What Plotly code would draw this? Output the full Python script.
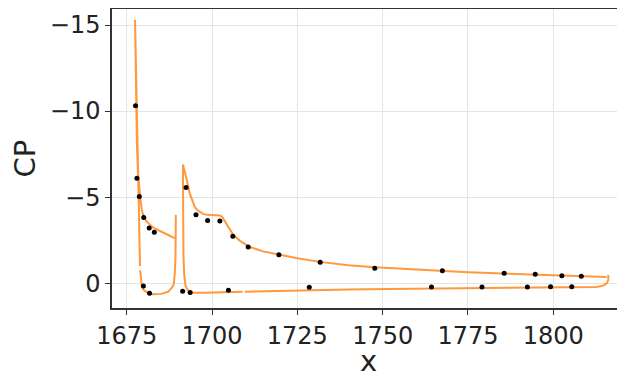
import plotly.graph_objects as go

# Slat pressure distribution (upper TE -> LE -> lower -> TE)
slat_x = [1689.3, 1688.5, 1687.2, 1685.5, 1684.3, 1683.0, 1681.8, 1680.8, 1679.9, 1679.4,
          1679.0, 1678.6, 1678.3, 1678.0, 1677.8, 1677.6, 1677.45,
          1677.55, 1677.75, 1678.0, 1678.2, 1678.4, 1678.6, 1678.75, 1678.85, 1678.9, None,
          1678.95, 1679.1, 1679.4, 1679.9, 1681.4, 1682.8, 1685.2, 1687.2, 1688.3, 1688.8,
          1689.1, 1689.3, 1689.35, 1689.4]
slat_cp = [-2.62, -2.66, -2.8, -2.95, -3.06, -3.2, -3.39, -3.6, -3.9, -4.3,
           -4.9, -5.6, -6.5, -8.0, -10.0, -12.5, -15.3,
           -14.0, -11.5, -9.0, -7.2, -5.8, -4.0, -2.5, -1.5, -1.0, None,
           -0.75, -0.3, 0.1, 0.39, 0.58, 0.64, 0.62, 0.49, 0.25, 0.05,
           -0.58, -1.5, -2.6, -3.97]

# Main element pressure distribution (upper TE -> LE -> lower -> TE)
main_x = [1815.6, 1808.0, 1801.0, 1795.0, 1785.3, 1775.0, 1767.3, 1757.0, 1747.7, 1740.0,
          1731.6, 1725.0, 1719.4, 1715.0, 1711.1, 1708.2, 1706.2, 1704.8, 1703.8, 1703.0,
          1702.3, 1700.4, 1698.5, 1697.4, 1696.0, 1695.0, 1694.2, 1693.5, 1692.6, 1691.9,
          1691.5,
          1691.5, 1691.5, 1691.55, 1691.65, 1691.85, 1692.2, 1692.7, 1693.3, 1694.5, 1698.0,
          1703.0, 1709.0, None, 1709.6, 1715.0, 1728.0, 1740.0, 1752.0, 1765.0, 1775.0,
          1792.0, 1808.0, 1812.7, 1814.6, 1815.7, 1816.1, 1816.1]
main_cp = [-0.36, -0.4, -0.44, -0.5, -0.56, -0.64, -0.72, -0.82, -0.93, -1.05,
           -1.24, -1.45, -1.65, -1.85, -2.1, -2.46, -2.81, -3.29, -3.65, -3.85,
           -3.93, -3.95, -3.97, -4.03, -4.2, -4.4, -4.8, -5.2, -6.0, -6.5,
           -6.9,
           -6.0, -4.5, -3.0, -1.5, -0.5, 0.1, 0.35, 0.49, 0.55, 0.56,
           0.53, 0.5, None, 0.5, 0.47, 0.43, 0.37, 0.33, 0.3, 0.28,
           0.25, 0.23, 0.22, 0.14, 0.0, -0.2, -0.48]

# Experimental data points
exp_x = [1677.6, 1678.0, 1678.7, 1680.0, 1681.6, 1683.1, 1692.4, 1695.3, 1698.7, 1702.3,
         1706.1, 1710.6, 1719.6, 1731.7, 1747.7, 1767.5, 1785.6, 1794.7, 1802.5, 1808.2,
         1679.9, 1681.7, 1691.4, 1693.6, 1704.8, 1728.5, 1764.3, 1779.1, 1792.4, 1799.2,
         1805.4]
exp_cp = [-10.31, -6.1, -5.04, -3.82, -3.21, -2.96, -5.56, -3.97, -3.64, -3.62,
          -2.73, -2.11, -1.65, -1.22, -0.87, -0.72, -0.58, -0.52, -0.44, -0.41,
          0.16, 0.58, 0.47, 0.54, 0.41, 0.23, 0.22, 0.22, 0.22, 0.2,
          0.2]

x_ticks = [1675, 1700, 1725, 1750, 1775, 1800]
y_ticks = [-15, -10, -5, 0]
x_title = "x"
y_title = "CP"

line_color = "#ff993e"
text_color = "#222222"
font_family = "DejaVu Sans"

fig = go.Figure()
fig.add_trace(go.Scatter(x=slat_x, y=slat_cp, mode="lines",
                         line=dict(color=line_color, width=2), connectgaps=False,
                         showlegend=False, hoverinfo="skip"))
fig.add_trace(go.Scatter(x=main_x, y=main_cp, mode="lines",
                         line=dict(color=line_color, width=2), connectgaps=False,
                         showlegend=False, hoverinfo="skip"))
fig.add_trace(go.Scatter(x=exp_x, y=exp_cp, mode="markers",
                         marker=dict(color="black", size=5),
                         showlegend=False))

# x-axis title placed as an annotation so it sits exactly below the tick labels
fig.add_annotation(text=x_title, xref="paper", yref="paper", x=0.5, y=0,
                   xanchor="center", yanchor="middle", yshift=-53, showarrow=False,
                   font=dict(size=29, family=font_family, color=text_color))

# The page body adds an 8px offset; the figure is sized so it fills the window.
fig.update_layout(
    width=617, height=365,
    margin=dict(l=104, r=0, t=1, b=65),
    paper_bgcolor="white", plot_bgcolor="white",
    font=dict(family=font_family, color=text_color),
    xaxis=dict(
        range=[1670.7, 1821.0], tickvals=x_ticks, automargin=False,
        tickfont=dict(size=24, family=font_family, color=text_color),
        showgrid=True, gridcolor="#e5e5e5", gridwidth=1,
        showline=True, linecolor="#333333", linewidth=1.5, mirror=True,
        ticks="outside", ticklen=5, tickcolor="#333333", zeroline=False,
    ),
    yaxis=dict(
        range=[1.44, -15.93], tickvals=y_ticks, automargin=False,
        tickfont=dict(size=24, family=font_family, color=text_color),
        title=dict(text=y_title, font=dict(size=29, family=font_family, color=text_color), standoff=6),
        showgrid=True, gridcolor="#e5e5e5", gridwidth=1,
        showline=True, linecolor="#333333", linewidth=1.5, mirror=False,
        ticks="outside", ticklen=5, tickcolor="#333333", zeroline=False,
    ),
)

fig.write_html("out.html")
